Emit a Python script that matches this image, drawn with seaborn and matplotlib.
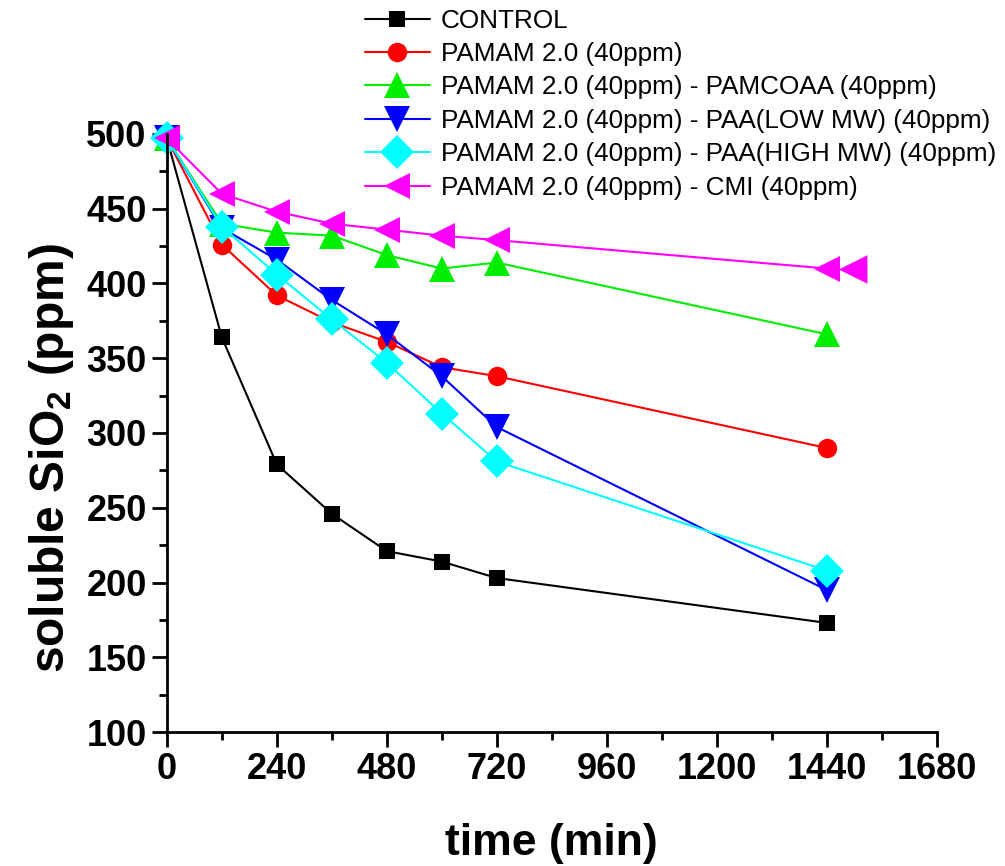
import seaborn as sns
import pandas as pd
import numpy as np
import matplotlib.pyplot as plt
from matplotlib.ticker import MultipleLocator

sns.set_style("ticks", {"text.color": "black", "axes.labelcolor": "black",
                        "xtick.color": "black", "ytick.color": "black",
                        "axes.edgecolor": "black"})
plt.rcParams['font.family'] = ['Liberation Sans', 'DejaVu Sans']
plt.rcParams['mathtext.fontset'] = 'custom'
plt.rcParams['mathtext.rm'] = 'Liberation Sans:bold'
plt.rcParams['mathtext.bf'] = 'Liberation Sans:bold'
plt.rcParams['mathtext.default'] = 'bf'

# data
time_min = [0, 120, 240, 360, 480, 600, 720, 1440]
control = [497, 364, 279, 246, 221, 214, 203, 173]
pamam = [497, 426, 392, 374, 361, 344, 338, 290]
pamcoaa = [497, 440, 434, 432, 419, 410, 414, 366]
paa_low = [497, 437, 416, 389, 366, 338, 304, 195]
paa_high = [497, 438, 406, 376, 347, 313, 281, 208]
cmi = [497, 460, 448, 440, 436, 432, 429, 410]
cmi_extra_t = [1495]
cmi_extra_v = [410]

labels = ["CONTROL",
          "PAMAM 2.0 (40ppm)",
          "PAMAM 2.0 (40ppm) - PAMCOAA (40ppm)",
          "PAMAM 2.0 (40ppm) - PAA(LOW MW) (40ppm)",
          "PAMAM 2.0 (40ppm) - PAA(HIGH MW) (40ppm)",
          "PAMAM 2.0 (40ppm) - CMI (40ppm)"]
series = [control, pamam, pamcoaa, paa_low, paa_high, cmi]
colors = ["black", "#ff0000", "#00ee00", "#0000ff", "#00ffff", "#ff00ff"]
markers = ["s", "o", "^", "v", "D", "<"]
msizes = [15, 17, 23, 23, 19, 23]

fig = plt.figure(figsize=(10.05, 8.66), dpi=100)
ax = fig.add_axes([0.166, 0.1547, 0.766, 0.6906])

for vals, lab, c, m, ms in zip(series, labels, colors, markers, msizes):
    sns.lineplot(x=time_min, y=vals, ax=ax, color=c, marker=m, markersize=ms,
                 markeredgecolor="white", markeredgewidth=1.5, linewidth=1.5,
                 label=lab)
sns.scatterplot(x=cmi_extra_t, y=cmi_extra_v, ax=ax, color="#ff00ff", marker="<",
                s=23**2, edgecolor="white", linewidth=1.5, legend=False)

ax.set_xlim(0, 1680)
ax.set_ylim(100, 500)
ax.xaxis.set_major_locator(MultipleLocator(240))
ax.xaxis.set_minor_locator(MultipleLocator(120))
ax.yaxis.set_major_locator(MultipleLocator(50))
ax.yaxis.set_minor_locator(MultipleLocator(25))
ax.tick_params(which="major", length=11, width=2, labelsize=26, direction="out")
ax.tick_params(which="minor", length=6, width=2, direction="out")
for lbl in ax.get_xticklabels() + ax.get_yticklabels():
    lbl.set_fontweight("bold")
sns.despine(ax=ax)
for s in ["left", "bottom"]:
    ax.spines[s].set_linewidth(2)
for ln in ax.lines:
    ln.set_clip_on(False)
for col in ax.collections:
    col.set_clip_on(False)

ax.set_xlabel("time (min)", fontsize=32, fontweight="bold", labelpad=26)
ax.set_ylabel("soluble SiO$_2$ (ppm)", fontsize=34.5, fontweight="bold")
ax.yaxis.set_label_coords(-0.118, 0.458)

handles, labs = ax.get_legend_handles_labels()
ax.legend_.remove()
for h, ms in zip(handles, [12, 14, 19, 19, 17, 19]):
    h.set_markersize(ms)
    h.set_markeredgewidth(0)
fig.legend(handles, labs, loc="upper left", bbox_to_anchor=(0.363, 0.99),
           frameon=False, fontsize=18.8, handlelength=2.5, handletextpad=0.4,
           labelspacing=0.36, borderaxespad=0, borderpad=0)

fig.savefig("out.png", dpi=100)
